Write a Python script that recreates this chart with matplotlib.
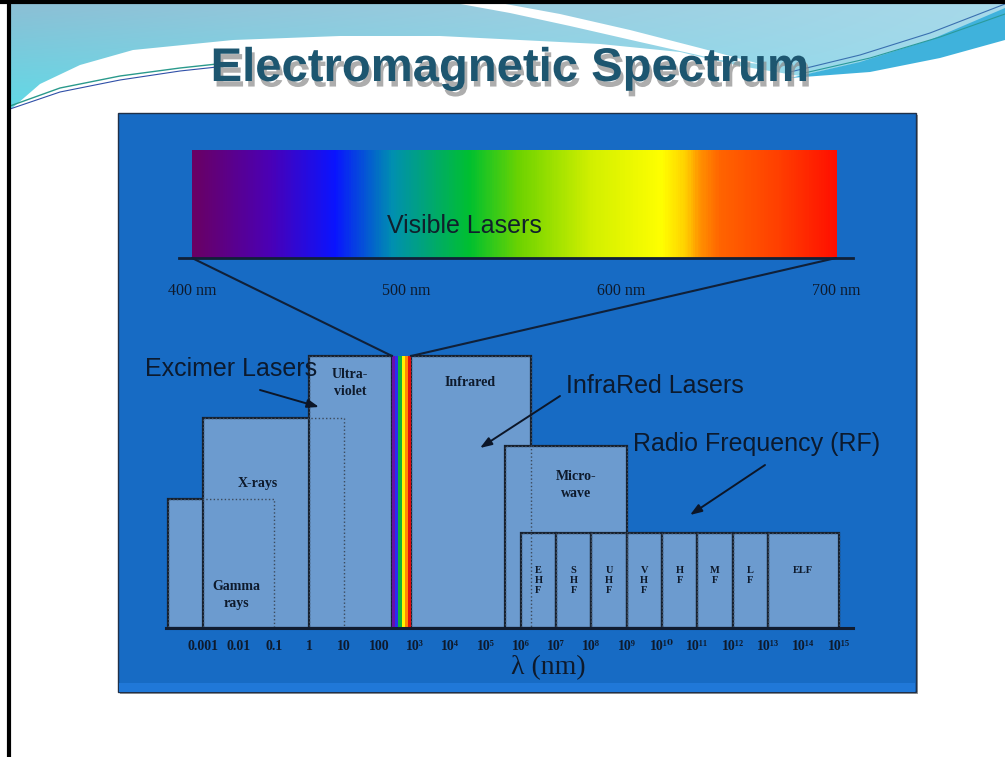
import numpy as np
import matplotlib
matplotlib.use('Agg')
import matplotlib.pyplot as plt
import matplotlib.patheffects as pe
from matplotlib import font_manager
from matplotlib.colors import LinearSegmentedColormap, ListedColormap
from matplotlib.patches import Polygon, Rectangle, ConnectionPatch

# --- data ---
band_names = ['Gamma\nrays', 'X-rays', 'Ultra-\nviolet', 'Infrared', 'Micro-\nwave']
band_lo = [1e-4, 1e-3, 1, 780, 3.5e5]
band_hi = [0.1, 10, 225, 2e6, 1e9]
band_h = [129, 210, 272, 272, 182]

rf_names = ['E\nH\nF', 'S\nH\nF', 'U\nH\nF', 'V\nH\nF', 'H\nF', 'M\nF', 'L\nF', 'ELF']
rf_edges = [1e6, 1e7, 1e8, 1e9, 1e10, 1e11, 1e12, 1e13, 1e15]
rf_h = 95

vis_lo, vis_hi = 225, 780
strip_colors = ['#6a10a8', '#2a2cf0', '#10b040', '#fff200', '#ff8a00', '#e01010']

vis_nm = [400, 435, 466, 493, 529, 553, 586, 619, 630, 637, 646, 673, 700]
vis_hex = ['#6a0064', '#4c00b4', '#0a14ff', '#0090b0', '#00c030', '#70d400',
           '#d2f000', '#ffff00', '#ffd000', '#ff9000', '#ff6400', '#ff4000', '#ff1000']
vis_ticks = [400, 500, 600, 700]

decades = list(range(-3, 16))
sup = str.maketrans('0123456789', '⁰¹²³⁴⁵⁶⁷⁸⁹')
dec_labels = ['0.001', '0.01', '0.1', '1', '10', '100'] + \
             ['10' + str(k).translate(sup) for k in range(3, 16)]

BOX = '#6c9bcf'
EDGE = '#16202e'
INK = '#0e1a2c'
serif = ['Liberation Serif', 'DejaVu Serif']
sans = ['Liberation Sans', 'DejaVu Sans']

# narrow face for the title if one is installed
installed = {f.name for f in font_manager.fontManager.ttflist}
title_font, title_size = 'Liberation Sans', 34
for name, size in [('Liberation Sans Narrow', 39), ('DejaVu Sans Condensed', 33)]:
    if name in installed:
        title_font, title_size = name, size
        break

fig = plt.figure(figsize=(10.05, 7.57), dpi=100)

# --- slide background (pixel coordinates) ---
bg = fig.add_axes([0, 0, 1, 1])
bg.set_xlim(0, 1005)
bg.set_ylim(757, 0)
bg.axis('off')

H, W = 120, 1005
ty = np.linspace(0, 1, H)[:, None, None]
tx = np.linspace(0, 1, W)[None, :, None]
c_tl = np.array([0x8c, 0xbf, 0xd5]) / 255
c_bl = np.array([0x5c, 0xdc, 0xe8]) / 255
c_tr = np.array([0xa8, 0xda, 0xea]) / 255
c_br = np.array([0x9c, 0xdc, 0xee]) / 255
grad = (1 - tx) * ((1 - ty) * c_tl + ty * c_bl) + tx * ((1 - ty) * c_tr + ty * c_br)
im = bg.imshow(grad, extent=(10, 1005, 120, 3), aspect='auto', zorder=1)
hdr = Polygon([(10, 3), (1005, 3), (1005, 22), (950, 40), (880, 58), (800, 76),
               (740, 66), (680, 52), (600, 44), (520, 40), (440, 36), (340, 36),
               (233, 40), (133, 50), (80, 65), (40, 84), (10, 110)],
              closed=True, transform=bg.transData, facecolor='none', edgecolor='none')
bg.add_patch(hdr)
im.set_clip_path(hdr)

# white swoosh crossing the header
bg.add_patch(Polygon([(455, 3), (500, 3), (560, 14), (630, 30), (700, 48), (760, 64),
                      (720, 60), (640, 42), (570, 26), (510, 13)],
                     closed=True, facecolor='white', edgecolor='none', zorder=2))
# cyan band on the right
bg.add_patch(Polygon([(790, 78), (860, 62), (930, 40), (1005, 8), (1005, 40),
                      (940, 58), (870, 72)],
                     closed=True, facecolor='#3fb2dc', edgecolor='none', zorder=2))
bg.plot([10, 60, 120, 180, 217], [106, 88, 76, 68, 64], color='#2a9a8c', lw=1, zorder=3)
bg.plot([10, 60, 120, 180, 217], [109, 92, 80, 71, 67], color='#3050a8', lw=0.8, zorder=3)
bg.plot([790, 860, 930, 1005], [72, 55, 33, 4], color='#3a70b0', lw=0.8, zorder=3)
bg.plot([800, 870, 940, 1005], [74, 58, 37, 14], color='#2a9a9a', lw=0.8, zorder=3)

# slide frame
bg.plot([9, 9], [0, 757], color='black', lw=3, zorder=5)
bg.plot([0, 1005], [1.5, 1.5], color='black', lw=3, zorder=5)

# title
bg.text(510, 69, 'Electromagnetic Spectrum', ha='center', va='center',
        fontsize=title_size, fontweight='bold', color='#1d5670',
        family=[title_font, 'Liberation Sans'], zorder=6,
        path_effects=[pe.SimplePatchShadow(offset=(2, -4), shadow_rgbFace='#8a8a8a', alpha=0.7),
                      pe.Normal()])

# blue panel
bg.add_patch(Rectangle((120, 115), 798, 579, facecolor='#9a9a9a', edgecolor='none', zorder=2))
bg.add_patch(Rectangle((118, 113), 798, 579, facecolor='#176bc4', edgecolor='#203048',
                       lw=1, zorder=3))
bg.add_patch(Rectangle((119, 683), 796, 8.5, facecolor='#2078d8', edgecolor='none', zorder=3))

# --- visible spectrum bar ---
px_nm = 644 / 300
ax_vis = fig.add_axes([179 / 1005, (757 - 258) / 757, 674 / 1005, 108 / 757])
ax_vis.patch.set_alpha(0)
cmap = LinearSegmentedColormap.from_list(
    'vis', [((v - 400) / 300, c) for v, c in zip(vis_nm, vis_hex)])
ax_vis.imshow(np.linspace(400, 700, 600)[None, :], extent=(400, 700, 0, 1),
              cmap=cmap, vmin=400, vmax=700, aspect='auto')
ax_vis.set_xlim(400 - 13 / px_nm, 700 + 17 / px_nm)
ax_vis.set_ylim(0, 1)
for s in ['top', 'left', 'right']:
    ax_vis.spines[s].set_visible(False)
ax_vis.spines['bottom'].set_color('#102038')
ax_vis.spines['bottom'].set_linewidth(2)
ax_vis.set_yticks([])
ax_vis.set_xticks(vis_ticks, labels=[f'{v} nm' for v in vis_ticks])
ax_vis.tick_params(axis='x', length=0, pad=18, labelsize=11.5, labelcolor=INK)
for t in ax_vis.get_xticklabels():
    t.set_family(serif)
ax_vis.text(527, 0.3, 'Visible Lasers', ha='center', va='center', fontsize=18,
            color='#10202c', family=sans)

# --- the spectrum boxes on a log wavelength axis ---
ax = fig.add_axes([166 / 1005, (757 - 628) / 757, 687 / 1005, 290 / 757])
ax.patch.set_alpha(0)
ax.set_xscale('log')
ax.set_xlim(10 ** -4.05, 10 ** 15.41)
ax.set_ylim(0, 290)

lo_all = band_lo + rf_edges[:-1]
hi_all = band_hi + rf_edges[1:]
h_all = band_h + [rf_h] * len(rf_names)
w_all = [h - l for l, h in zip(lo_all, hi_all)]
ax.bar(lo_all, h_all, width=w_all, align='edge', color=BOX, edgecolor=EDGE,
       linewidth=1.6, zorder=2)
ax.bar(lo_all, h_all, width=w_all, align='edge', fill=False, edgecolor='#3c4a5c',
       linewidth=1, linestyle=':', zorder=3)

xe = np.geomspace(vis_lo, vis_hi, len(strip_colors) + 1)
ax.pcolormesh(xe, [0, band_h[2]], np.arange(len(strip_colors))[None, :],
              cmap=ListedColormap(strip_colors), zorder=4)

lbl_x = [10 ** -2.07, 10 ** -1.44, 10 ** 1.16, 10 ** 4.56, 10 ** 7.56]
lbl_y = [33, 145, 245, 245, 143]
for name, x, y in zip(band_names, lbl_x, lbl_y):
    ax.text(x, y, name, ha='center', va='center', fontsize=10, fontweight='bold',
            color=INK, family=serif, linespacing=1.45, zorder=5)
for i, name in enumerate(rf_names):
    xc = np.sqrt(rf_edges[i] * rf_edges[i + 1])
    ax.text(xc, 62, name, ha='center', va='top', fontsize=7.5, fontweight='bold',
            color=INK, family=serif, linespacing=1.15, zorder=5)

for s in ['top', 'left', 'right']:
    ax.spines[s].set_visible(False)
ax.spines['bottom'].set_color('#101c30')
ax.spines['bottom'].set_linewidth(2.2)
ax.spines['bottom'].set_zorder(6)
ax.set_yticks([])
ax.set_xticks([10.0 ** k for k in decades], labels=dec_labels)
ax.minorticks_off()
ax.tick_params(axis='x', direction='in', length=5, width=1, color='#5a6a80',
               pad=9, labelsize=10, labelcolor=INK)
for t in ax.get_xticklabels():
    t.set_family(serif)
    t.set_fontweight('bold')

# lines fanning out from the strip to the bar
for v_nm, v_sp in [(400, vis_lo), (700, vis_hi)]:
    fig.add_artist(ConnectionPatch(xyA=(v_nm, 0), coordsA=ax_vis.transData,
                                   xyB=(v_sp, band_h[2]), coordsB=ax.transData,
                                   color='#102038', lw=1.5, zorder=10))

# --- laser annotations on a transparent top layer (pixel coordinates) ---
top = fig.add_axes([0, 0, 1, 1])
top.set_xlim(0, 1005)
top.set_ylim(757, 0)
top.axis('off')
top.patch.set_alpha(0)

arw = dict(arrowstyle='-|>,head_length=0.7,head_width=0.25', color='#0c1628', lw=1.4,
           shrinkA=0, shrinkB=0)
top.annotate('', xy=(319, 407), xytext=(260, 390), arrowprops=arw)
top.annotate('', xy=(480, 448), xytext=(560, 396), arrowprops=arw)
top.annotate('', xy=(690, 515), xytext=(765, 465), arrowprops=arw)
top.text(231, 369, 'Excimer Lasers', ha='center', va='center', fontsize=18,
         color='#0c1a2e', family=sans)
top.text(655, 386, 'InfraRed Lasers', ha='center', va='center', fontsize=18,
         color='#0c1a2e', family=sans)
top.text(757, 444, 'Radio Frequency (RF)', ha='center', va='center', fontsize=18,
         color='#0c1a2e', family=sans)
top.text(548, 668, 'λ (nm)', ha='center', va='center', fontsize=20,
         color=INK, family=serif)

fig.savefig('out.png', dpi=100)
